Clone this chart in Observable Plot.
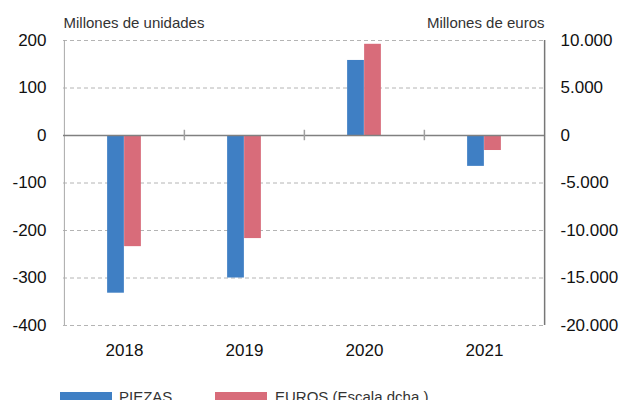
<!DOCTYPE html>
<html><head><meta charset="utf-8">
<script src="https://cdn.jsdelivr.net/npm/d3@7"></script>
<script src="https://cdn.jsdelivr.net/npm/@observablehq/plot@0.6"></script>
<style>
body{margin:0;background:#fff;font-family:"Liberation Sans",Arial,sans-serif;}
#legend{position:relative;height:25px;width:621px;}
.sw{position:absolute;top:17px;width:52px;height:10px;}
.lt{position:absolute;top:14px;font-size:15px;line-height:15px;color:#333;white-space:nowrap;}
</style></head><body><div id="chart"></div><div id="legend"></div>
<script>
const years = ["2018", "2019", "2020", "2021"];
const piezas = [-332, -300, 158, -65];
const euros = [-11700, -10850, 9600, -1580];
const leftTicks = [-400, -300, -200, -100, 0, 100, 200];
const leftTickLabels = ["-400", "-300", "-200", "-100", "0", "100", "200"];
const rightTickLabels = ["-20.000", "-15.000", "-10.000", "-5.000", "0", "5.000", "10.000"];
const eurosPerUnit = 50;
const seriesNames = ["PIEZAS", "EUROS (Escala dcha.)"];
const seriesColors = ["#3f7fc4", "#d86c7a"];
const axisTitles = ["Millones de unidades", "Millones de euros"];

const W = 621, H = 375, ml = 63, mr = 77, mt = 40, mb = 50;
const half = (W - ml - mr) / years.length / 2;
const barW = 17;
const rowsP = years.map((y, i) => ({year: y, value: piezas[i]}));
const rowsE = years.map((y, i) => ({year: y, value: euros[i] / eurosPerUnit}));

const chart = Plot.plot({
  width: W, height: H, marginLeft: ml, marginRight: mr, marginTop: mt, marginBottom: mb,
  style: {fontFamily: '"Liberation Sans", Arial, sans-serif', fontSize: "17px", color: "#111", background: "white"},
  x: {domain: years, padding: 0, label: null},
  y: {domain: [-400, 200], label: null},
  marks: [
    Plot.ruleY(leftTicks.filter(d => d !== 0), {stroke: "#b4b4b4", strokeDasharray: "4,3", strokeWidth: 1}),
    Plot.ruleX(years.slice(0, 1), {dx: -half, stroke: "#a8a8a8", strokeWidth: 1}),
    Plot.ruleX(years.slice(-1), {dx: half, stroke: "#777", strokeWidth: 1.5}),
    Plot.barY(rowsP, {x: "year", y: "value", fill: seriesColors[0], insetLeft: half - barW, insetRight: half}),
    Plot.barY(rowsE, {x: "year", y: "value", fill: seriesColors[1], insetLeft: half, insetRight: half - barW}),
    Plot.ruleY([0], {stroke: "#808080", strokeWidth: 1.5}),
    Plot.ruleX(years.slice(1), {y1: -11, y2: 11, dx: -half, stroke: "#a0a0a0", strokeWidth: 1.5}),
    Plot.axisY({anchor: "left", ticks: leftTicks, tickSize: 0, tickPadding: 17, label: null,
      tickFormat: d => leftTickLabels[leftTicks.indexOf(d)]}),
    Plot.axisY({anchor: "right", ticks: leftTicks, tickSize: 0, tickPadding: 16, label: null,
      tickFormat: d => rightTickLabels[leftTicks.indexOf(d)]}),
    Plot.axisX({tickSize: 0, tickPadding: 18, label: null}),
    Plot.text([axisTitles[0]], {text: d => d, frameAnchor: "top-left", textAnchor: "start", lineAnchor: "bottom", dy: -12.5, fontSize: 15, fill: "#333"}),
    Plot.text([axisTitles[1]], {text: d => d, frameAnchor: "top-right", textAnchor: "end", lineAnchor: "bottom", dy: -12.5, fontSize: 15, fill: "#333"})
  ]
});
document.getElementById("chart").appendChild(chart);

const legend = document.getElementById("legend");
const swLeft = [60, 215], txtLeft = [119, 275];
seriesNames.forEach((n, i) => {
  const s = document.createElement("div");
  s.className = "sw"; s.style.left = swLeft[i] + "px"; s.style.background = seriesColors[i];
  const t = document.createElement("div");
  t.className = "lt"; t.style.left = txtLeft[i] + "px"; t.textContent = n;
  legend.appendChild(s); legend.appendChild(t);
});
</script></body></html>
